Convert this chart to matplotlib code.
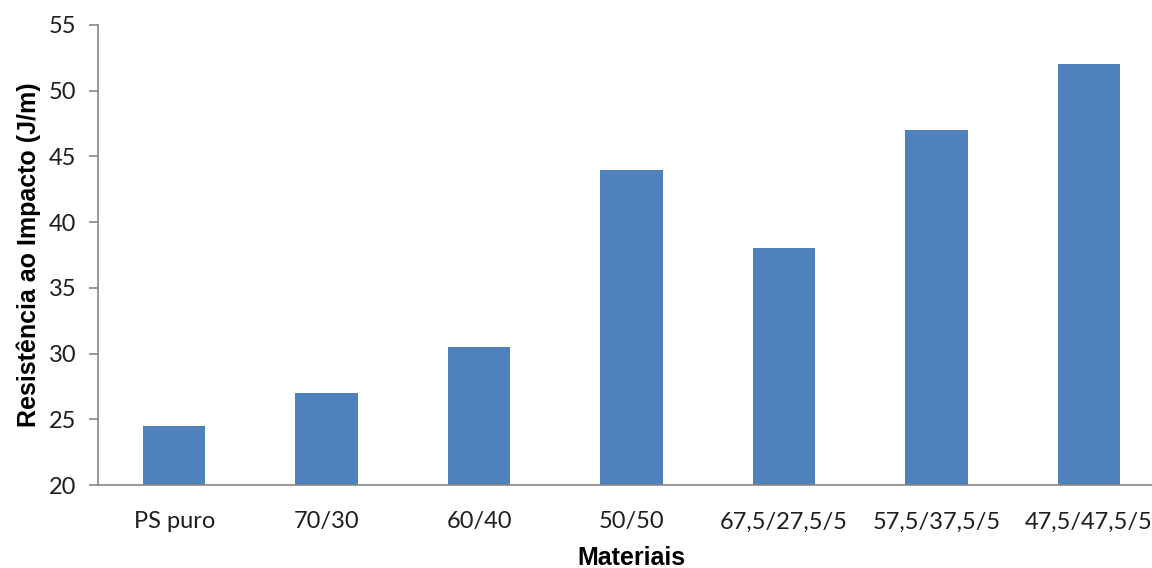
import matplotlib.pyplot as plt

materiais = ["PS puro", "70/30", "60/40", "50/50", "67,5/27,5/5", "57,5/37,5/5", "47,5/47,5/5"]
resistencia = [24.5, 27, 30.5, 44, 38, 47, 52]

plt.rcParams["font.family"] = ["Lato", "DejaVu Sans"]

fig = plt.figure(figsize=(11.52, 5.68), dpi=100)
ax = fig.add_axes([0.0851, 0.1461, 0.9262, 0.8099])

x = range(len(materiais))
ax.bar(x, resistencia, width=0.41, color="#4F81BD", zorder=2)

ax.set_xlim(-0.5, len(materiais) - 0.5)
ax.set_ylim(20, 55)
ax.set_yticks(range(20, 56, 5))
ax.set_xticks(list(x))
ax.set_xticklabels(materiais)

for s in ["top", "right"]:
    ax.spines[s].set_visible(False)
for s in ["left", "bottom"]:
    ax.spines[s].set_color("#868686")
    ax.spines[s].set_linewidth(1.2)

ax.tick_params(axis="y", length=6.5, width=1.2, color="#868686", pad=9, labelsize=17, labelcolor="#1e1e1e")
ax.tick_params(axis="x", length=0, pad=19, labelsize=17, labelcolor="#1e1e1e")

# titulos dos eixos em negrito
fig.text(0.548, 0.005, "Materiais", family=["Liberation Sans", "DejaVu Sans"],
         fontsize=18, fontweight="bold", ha="center", va="baseline")
ax.set_ylabel("Resistência ao Impacto (J/m)", family=["Liberation Sans", "DejaVu Sans"],
              fontsize=18, fontweight="bold", labelpad=6)

fig.savefig("out.png", dpi=100)
